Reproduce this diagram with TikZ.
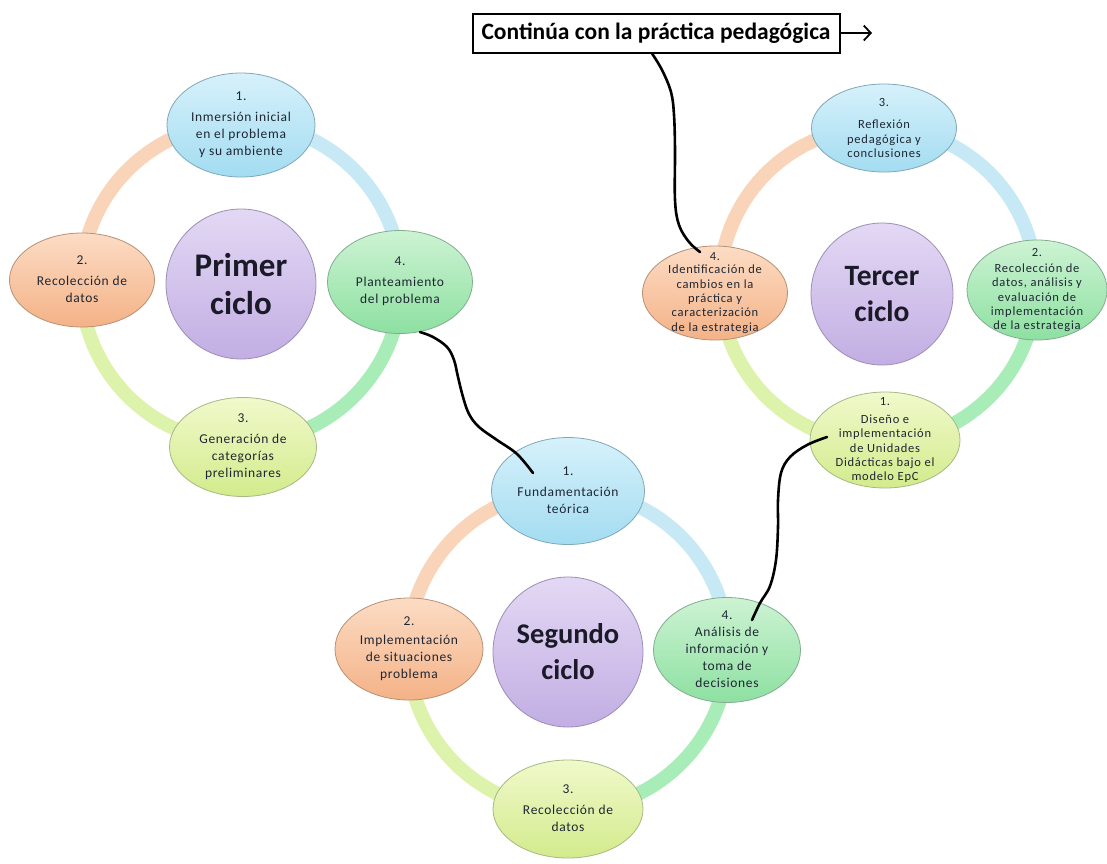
\documentclass[tikz,border=0pt]{standalone}
\usepackage{fontspec}
\setmainfont{Carlito}
\usetikzlibrary{shapes.geometric,arrows.meta,calc}

\definecolor{txt}{HTML}{1F2633}
\definecolor{ctxt}{HTML}{1A1A28}
\definecolor{bluetop}{HTML}{D6F1FB}
\definecolor{bluebot}{HTML}{A3DCF1}
\definecolor{bluebd}{HTML}{7FA8B8}
\definecolor{orgtop}{HTML}{FCDCC4}
\definecolor{orgbot}{HTML}{F4B287}
\definecolor{orgbd}{HTML}{B89074}
\definecolor{grntop}{HTML}{CDF3D3}
\definecolor{grnbot}{HTML}{8DE0A1}
\definecolor{grnbd}{HTML}{82AE8E}
\definecolor{ylwtop}{HTML}{F0F9CB}
\definecolor{ylwbot}{HTML}{D3EB8C}
\definecolor{ylwbd}{HTML}{A6B884}
\definecolor{purtop}{HTML}{E3D8F4}
\definecolor{purbot}{HTML}{C2AEE3}
\definecolor{purbd}{HTML}{9C8DB6}
\definecolor{ringblue}{HTML}{C6E9F5}
\definecolor{ringorg}{HTML}{F9D4B8}
\definecolor{ringgrn}{HTML}{A8EDB8}
\definecolor{ringylw}{HTML}{DDF2AA}

\newcommand\phtext[3][4pt]{\makebox[0pt][c]{\smash{\raisebox{-3pt}{\parbox[c]{5cm}{\centering #2\\[#1] #3}}}}}
\newcommand\cyclering[2]{%
  \draw[ringline, ringblue] (#1) ++(-90:#2) arc[start angle=-90,end angle=0,radius=#2];
  \draw[ringline, ringgrn] (#1) ++(0:#2) arc[start angle=0,end angle=90,radius=#2];
  \draw[ringline, ringylw] (#1) ++(90:#2) arc[start angle=90,end angle=180,radius=#2];
  \draw[ringline, ringorg] (#1) ++(180:#2) arc[start angle=180,end angle=270,radius=#2];
}

\tikzset{
  ringline/.style={line width=14pt},
  phase/.style={ellipse, inner sep=0pt, line width=0.8pt, text=txt,
    font=\fontsize{13.5}{17}\selectfont\addfontfeatures{LetterSpace=5}},
  small/.style={font=\fontsize{12.5}{14.3}\selectfont\addfontfeatures{LetterSpace=6}},
  pblue/.style={draw=bluebd, top color=bluetop, bottom color=bluebot},
  porg/.style={draw=orgbd, top color=orgtop, bottom color=orgbot},
  pgrn/.style={draw=grnbd, top color=grntop, bottom color=grnbot},
  pylw/.style={draw=ylwbd, top color=ylwtop, bottom color=ylwbot},
  hub/.style={circle, inner sep=0pt, minimum size=150pt, line width=0.8pt,
    draw=purbd, top color=purtop, bottom color=purbot, text=ctxt, align=center},
  wire/.style={line width=2.6pt, black, line cap=round, line join=round},
  banner/.style={draw, line width=2pt, inner sep=2pt, minimum width=367pt,
    minimum height=39pt, font=\bfseries\fontsize{23.5}{26}\selectfont},
}

\begin{document}
\begin{tikzpicture}[x=1pt,y=-1pt]
\useasboundingbox (0,0) rectangle (1107,863);
\fill[white] (0,0) rectangle (1107,863);

\coordinate (c1) at (241,283);
\coordinate (c2) at (568,650);
\coordinate (c3) at (878,285);
\cyclering{c1}{160}
\cyclering{c2}{160}
\cyclering{c3}{158}

% Primer ciclo
\node[hub,font=\bfseries\fontsize{33}{38}\selectfont] (pc) at (241,284) {Primer\\ciclo};
\node[phase,pblue,minimum width=148pt,minimum height=104pt] (p1) at (241,125)
  {\phtext{1.}{Inmersión inicial\\en el problema\\y su ambiente}};
\node[phase,porg,minimum width=145pt,minimum height=94pt] (p2) at (82,280)
  {\phtext{2.}{Recolección de\\datos}};
\node[phase,pylw,minimum width=147pt,minimum height=99pt] (p3) at (243,447)
  {\phtext{3.}{Generación de\\categorías\\preliminares}};
\node[phase,pgrn,minimum width=145pt,minimum height=103pt] (p4) at (400,282)
  {\phtext{4.}{Planteamiento\\del problema}};

% Segundo ciclo
\node[hub,font=\bfseries\fontsize{28.5}{36}\selectfont] (sc) at (568,652) {Segundo\\ciclo};
\node[phase,pblue,minimum width=153pt,minimum height=107pt] (s1) at (568,491)
  {\phtext{1.}{Fundamentación\\teórica}};
\node[phase,porg,minimum width=148pt,minimum height=102pt] (s2) at (409,649)
  {\phtext[2pt]{2.}{Implementación\\de situaciones\\problema}};
\node[phase,pylw,minimum width=150pt,minimum height=98pt] (s3) at (568,809)
  {\phtext{3.}{Recolección de\\datos}};
\node[phase,pgrn,minimum width=147pt,minimum height=105pt] (s4) at (727,650)
  {\phtext[0pt]{4.}{Análisis de\\información y\\toma de\\decisiones}};

% Tercer ciclo
\node[hub,minimum size=142pt,font=\bfseries\fontsize{29.5}{36}\selectfont] (tc) at (882,294) {Tercer\\ciclo};
\node[phase,small,pylw,minimum width=150pt,minimum height=96pt] (t1) at (885,440)
  {\phtext[4pt]{1.}{Diseño e\\implementación\\de Unidades\\Didácticas bajo el\\modelo EpC}};
\node[phase,small,pgrn,minimum width=140pt,minimum height=100pt] (t2) at (1037,290)
  {\phtext[2pt]{2.}{Recolección de\\datos, análisis y\\evaluación de\\implementación\\de la estrategia}};
\node[phase,small,pblue,minimum width=145pt,minimum height=88pt] (t3) at (884,128)
  {\phtext[8pt]{3.}{Reflexión\\pedagógica y\\conclusiones}};
\node[phase,small,porg,minimum width=145pt,minimum height=94pt] (t4) at (715,293)
  {\phtext[-1pt]{4.}{Identificación de\\cambios en la\\práctica y\\caracterización\\de la estrategia}};

% Banner
\node[banner] (top) at (656,33) {Continúa con la práctica pedagógica};
\coordinate (arrowend) at (872,33);
\draw[line width=1.8pt, -{Straight Barb[length=7pt,width=15pt]}] (top.east) -- (arrowend);

% Connectors
\coordinate (a1) at ($(top.south)+(-4,0)$);
\coordinate (a2) at ($(t4)+(-15,-41)$);
\draw[wire] plot[smooth,tension=0.6] coordinates
  {(a1) (662,70) (671,92) (674,115) (675,150) (675,200) (679,225) (689,242) (a2)};

\coordinate (b1) at ($(p4)+(20,50)$);
\coordinate (b2) at ($(s1)+(-35,-18)$);
\draw[wire] plot[smooth,tension=0.6] coordinates
  {(b1) (433,337) (447,347) (454,360) (458,377) (463,397) (469,414) (479,427) (497,440) (517,454) (b2)};

\coordinate (d1) at ($(s4)+(25,-30)$);
\coordinate (d2) at ($(t1)+(-58,-3)$);
\draw[wire] plot[smooth,tension=0.6] coordinates
  {(d1) (760,603) (770,586) (776,560) (778,527) (778,500) (781,473) (790,457) (807,445) (d2)};
\end{tikzpicture}
\end{document}
